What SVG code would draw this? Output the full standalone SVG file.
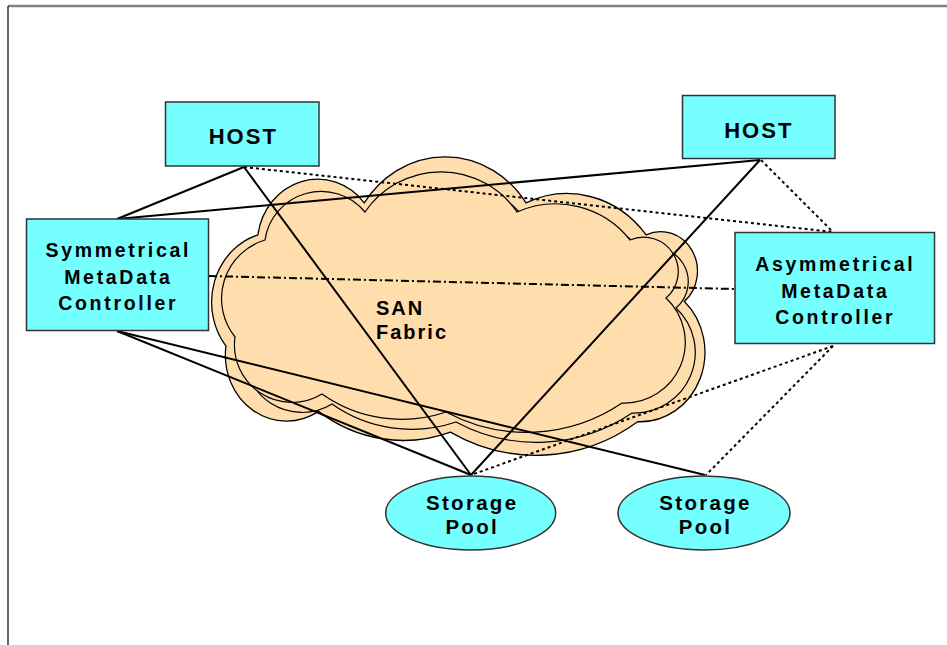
<svg xmlns="http://www.w3.org/2000/svg" width="947" height="645" viewBox="0 0 947 645">
<style>
.frame-top{stroke:#808080;stroke-width:2.5;fill:none}
.frame-left{stroke:#000;stroke-width:1.2;fill:none}
.cloud{fill:#FFDDAD;stroke:#000;stroke-width:1.2}
.box{fill:#75FFFF;stroke:#333;stroke-width:1.5}
.lbl{font-family:"Liberation Sans",Arial,sans-serif;font-weight:bold;fill:#000;text-anchor:middle}
.t20{font-size:19.5px;letter-spacing:2.7px}
.host{font-size:22px;letter-spacing:2px}
.pool{font-size:20.5px;letter-spacing:2.3px}
.san{font-family:"Liberation Sans",Arial,sans-serif;font-weight:bold;font-size:20px;letter-spacing:2px;fill:#000}
.solid{stroke:#000;stroke-width:2;fill:none}
.dot{stroke:#000;stroke-width:2;fill:none;stroke-dasharray:3 3}
.dashdot{stroke:#000;stroke-width:2;fill:none;stroke-dasharray:8 3 2 3}
</style>
<defs>
<path id="cloudShape" d="M265,240 A56.8,56.8 0 0 1 365,212 A92,92 0 0 1 517,212 A95,95 0 0 1 630,240 A34.5,34.5 0 0 1 666,298 A60.7,60.7 0 0 1 622,403 A170,170 0 0 1 446,412 A138,138 0 0 1 322,394 A57.5,57.5 0 0 1 235,337 A61.3,61.3 0 0 1 265,240 Z"/>
</defs>
<rect width="947" height="645" fill="#fff"/>
<line class="frame-top" x1="8" y1="6" x2="947" y2="6"/>
<line class="frame-left" x1="8" y1="6" x2="8" y2="645"/>

<g id="san-fabric">
<use href="#cloudShape" class="cloud" vector-effect="non-scaling-stroke" transform="translate(210,157) scale(1.0638,1.146) translate(-220,-172)"/>
<use href="#cloudShape" class="cloud" transform="translate(10,10)"/>
<use href="#cloudShape" class="cloud"/>
<text class="san" x="376" y="315">SAN</text>
<text class="san" x="376" y="339">Fabric</text>
</g>

<g id="connectors">
<line class="solid" x1="244" y1="167" x2="117" y2="219"/>
<line class="solid" x1="244" y1="167" x2="471" y2="475"/>
<line class="solid" x1="760" y1="160" x2="117" y2="219"/>
<line class="solid" x1="760" y1="160" x2="471" y2="475"/>
<line class="solid" x1="117" y1="331" x2="471" y2="475"/>
<line class="solid" x1="117" y1="331" x2="705" y2="475"/>
<line class="dot" x1="244" y1="167" x2="833" y2="232"/>
<line class="dot" x1="761" y1="160" x2="833" y2="232"/>
<line class="dot" x1="833" y1="346" x2="471" y2="475"/>
<line class="dot" x1="833" y1="346" x2="706" y2="475"/>
<line class="dashdot" x1="209" y1="276" x2="735" y2="289"/>
</g>

<g id="host-left">
<rect class="box" x="165.5" y="102" width="153.5" height="64"/>
<text class="lbl host" x="243.3" y="144">HOST</text>
</g>
<g id="host-right">
<rect class="box" x="682.5" y="95.5" width="152.5" height="63"/>
<text class="lbl host" x="758.8" y="137.5">HOST</text>
</g>
<g id="symmetrical-mdc">
<rect class="box" x="26.5" y="219" width="182" height="111.5"/>
<text class="lbl t20" x="118.3" y="257">Symmetrical</text>
<text class="lbl t20" x="118.3" y="284">MetaData</text>
<text class="lbl t20" x="118.3" y="310">Controller</text>
</g>
<g id="asymmetrical-mdc">
<rect class="box" x="735" y="232.5" width="199.5" height="111"/>
<text class="lbl t20" x="835.3" y="271">Asymmetrical</text>
<text class="lbl t20" x="835.3" y="298">MetaData</text>
<text class="lbl t20" x="835.3" y="324">Controller</text>
</g>
<g id="storage-pool-1">
<ellipse class="box" cx="470.7" cy="513" rx="85" ry="37"/>
<text class="lbl pool" x="472.2" y="510">Storage</text>
<text class="lbl pool" x="472.2" y="534">Pool</text>
</g>
<g id="storage-pool-2">
<ellipse class="box" cx="704" cy="513" rx="86" ry="37"/>
<text class="lbl pool" x="705.5" y="510">Storage</text>
<text class="lbl pool" x="705.5" y="534">Pool</text>
</g>
</svg>
